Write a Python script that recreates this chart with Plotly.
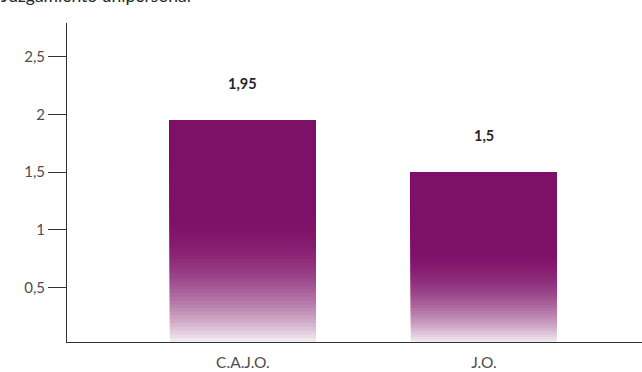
import plotly.graph_objs as go

# Données
categories = ["C.A.J.O.", "J.O."]
valeurs = [1.95, 1.5]
titre = "Juzgamiento unipersonal"
y_ticks = [0.5, 1, 1.5, 2, 2.5]

# Dégradé vertical : violet en haut, presque blanc en bas
violet = (127, 16, 104)
n_seg = 60


def couleur(f):
    a = 1 - max(0.0, 1 - f / 0.58) ** 2
    r, g, b = [round(c * a + 250 * (1 - a)) for c in violet]
    return f"rgb({r},{g},{b})"


fig = go.Figure()

# Barres superposées : chaque tranche va de son niveau jusqu'au sommet,
# la suivante repeint au-dessus -> dégradé sans lignes blanches
for k in range(n_seg):
    fig.add_trace(go.Bar(
        x=categories,
        y=[v * (1 - k / n_seg) for v in valeurs],
        base=[v * k / n_seg for v in valeurs],
        width=0.606,
        marker=dict(color=couleur((k + 0.5) / n_seg), line=dict(width=0)),
        hoverinfo="skip",
        showlegend=False,
    ))

# Étiquettes des valeurs
for cat, v in zip(categories, valeurs):
    fig.add_annotation(
        x=cat, y=v, text=f"<b>{str(v).replace('.', ',')}</b>",
        showarrow=False, yanchor="bottom", yshift=26,
        font=dict(family="Lato", size=14.5, color="#262626"),
    )

# Titre (coupé en haut comme dans l'original)
fig.add_annotation(
    xref="paper", yref="paper", x=0, y=1, xanchor="left", yanchor="middle",
    xshift=-68, yshift=28, text=titre, showarrow=False,
    font=dict(family="Lato", size=17.5, color="#262626"),
)

fig.update_layout(
    width=642, height=372,
    barmode="overlay",
    separators=",.",
    plot_bgcolor="white", paper_bgcolor="white",
    margin=dict(l=67, r=0, t=23, b=30),
    font=dict(family="Lato", size=14, color="#4d4d4d"),
    xaxis=dict(
        range=[-0.73, 1.656], showline=True, linecolor="#333333", linewidth=1,
        ticks="outside", ticklen=6, tickcolor="rgba(0,0,0,0)",
        tickfont=dict(size=15.5),
        showgrid=False, zeroline=False,
    ),
    yaxis=dict(
        range=[0.03, 2.79], tickvals=y_ticks, showline=True,
        linecolor="#333333", linewidth=1, ticks="outside", ticklen=18,
        tickcolor="#333333", tickfont=dict(size=15),
        showgrid=False, zeroline=False,
    ),
)

# Supprimer la marge par défaut de la page et la barre d'outils
fig.write_html("out.html", config={"displayModeBar": False},
               post_script="document.body.style.margin='0';")
